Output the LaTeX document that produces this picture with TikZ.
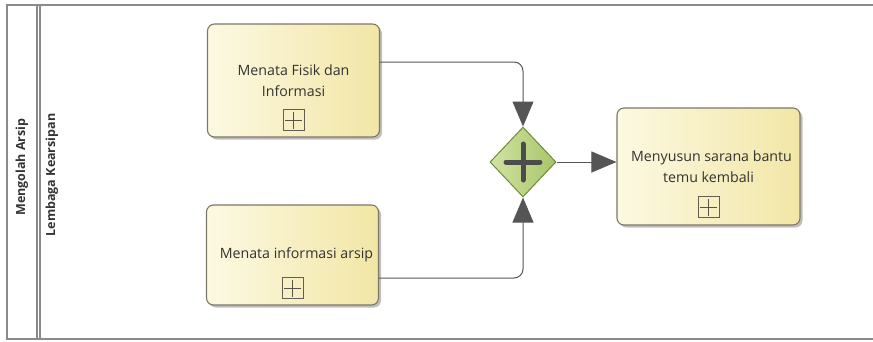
\documentclass[tikz,border=0pt]{standalone}
\usepackage{fontspec}
\setmainfont{Open Sans}
\usetikzlibrary{shapes.geometric,arrows.meta,shadows}

\definecolor{frameline}{HTML}{8A8A8A}
\definecolor{boxedge}{HTML}{7D7766}
\definecolor{boxlight}{HTML}{FCF9E2}
\definecolor{boxdark}{HTML}{F2E6A6}
\definecolor{gwlight}{HTML}{D2E3A2}
\definecolor{gwdark}{HTML}{A7C66A}
\definecolor{gwedge}{HTML}{6F8B3C}
\definecolor{flowline}{HTML}{555555}
\definecolor{txt}{HTML}{333333}

\tikzset{
  task/.style={draw=boxedge, line width=1.1pt, rounded corners=7pt,
    left color=boxlight, right color=boxdark,
    drop shadow={shadow xshift=2.5pt, shadow yshift=-2.5pt, opacity=0.25, fill=black},
    align=center, text=txt, font=\fontsize{14.2}{20.5}\selectfont, inner sep=0pt},
  submarker/.style={draw=boxedge!80!black, line width=0.8pt, minimum size=21pt, inner sep=0pt,
    path picture={\draw[line width=0.7pt, boxedge!70!black]
      ([yshift=-2pt]path picture bounding box.north) -- ([yshift=2pt]path picture bounding box.south)
      ([xshift=2pt]path picture bounding box.west) -- ([xshift=-2pt]path picture bounding box.east);}},
  gateway/.style={diamond, draw=gwedge, line width=1pt, inner sep=0pt,
    minimum width=66pt, minimum height=70pt, left color=gwlight, right color=gwdark},
  plusbar/.style={line width=5pt, line cap=round, draw=black!70},
  flow/.style={draw=flowline, line width=1pt, rounded corners=9pt,
    -{Triangle[length=25pt,width=21pt]}},
  lane/.style={draw=frameline, line width=1.2pt},
  lanetext/.style={rotate=90, font=\bfseries\fontsize{12.5}{14}\selectfont, text=txt}
}

\begin{document}
\begin{tikzpicture}[x=1pt, y=-1pt]
  \useasboundingbox (0,0) rectangle (873,341);

  % pool and lane frame
  \draw[lane] (873,5) -- (7,5) -- (7,339) -- (873,339);
  \draw[lane] (37,5) -- (37,339);
  \draw[lane] (40,5) -- (40,339);
  \node[lanetext] (pool) at (22,167) {Mengolah Arsip};
  \node[lanetext] (lanename) at (52,175) {Lembaga Kearsipan};

  % sub-process tasks
  \node[task, minimum width=172pt, minimum height=113pt] (b1) at (293.5,80.5)
    {Menata Fisik dan\\Informasi};
  \node[task, minimum width=172pt, minimum height=100pt] (b2) at (292.5,255)
    {\hspace*{8pt}Menata informasi arsip};
  \node[task, minimum width=183pt, minimum height=117pt] (b3) at (708.5,166.5)
    {\hspace*{6pt}Menyusun sarana bantu\\temu kembali};

  \node[submarker] (m1) at ([yshift=17.5pt]b1.south) {};
  \node[submarker] (m2) at ([yshift=17.5pt]b2.south) {};
  \node[submarker] (m3) at ([yshift=18.5pt]b3.south) {};

  % parallel gateway
  \node[gateway] (gw) at (523,162) {};
  \draw[plusbar] ([xshift=-17pt]gw.center) -- ([xshift=17pt]gw.center);
  \draw[plusbar] ([yshift=-18pt]gw.center) -- ([yshift=18pt]gw.center);

  % sequence flows
  \draw[flow] ([yshift=18.5pt]b1.east) -| (gw.north);
  \draw[flow] ([yshift=-23pt]b2.east) -| (gw.south);
  \draw[flow] (gw.east) -- (gw.east -| b3.west);
\end{tikzpicture}
\end{document}
